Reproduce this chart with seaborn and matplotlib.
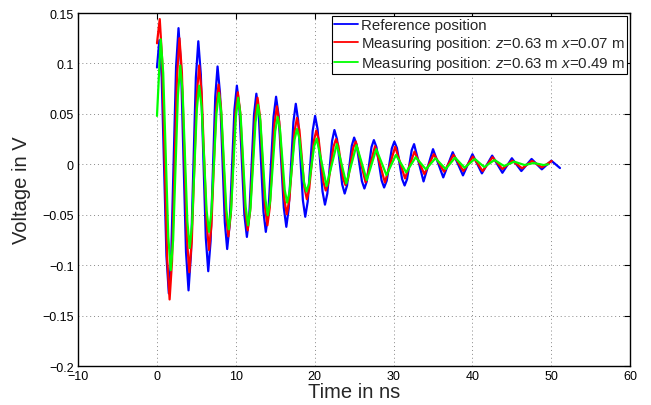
import matplotlib
matplotlib.use("Agg")
import matplotlib.pyplot as plt
import seaborn as sns
import pandas as pd
from matplotlib.ticker import FuncFormatter

# ---- data (extrema and shoulder points of each trace) ----
blue_t = [0, 0.3, 0.6, 1.2, 1.5, 1.81, 2.42, 2.73, 3.05, 3.68, 4.0, 4.31, 4.93, 5.24,
          5.56, 6.19, 6.5, 6.8, 7.39, 7.68, 7.99, 8.6, 8.9, 9.21, 9.82, 10.13, 10.45,
          11.08, 11.4, 11.7, 12.3, 12.6, 12.9, 13.5, 13.8, 14.13, 14.78, 15.1, 15.43,
          16.08, 16.4, 16.7, 17.3, 17.6, 17.9, 18.5, 18.8, 19.11, 19.74, 20.05, 20.36,
          20.99, 21.3, 21.6, 22.2, 22.5, 22.83, 23.48, 23.8, 24.1, 24.7, 25.0, 25.33,
          25.98, 26.3, 26.6, 27.2, 27.5, 27.83, 28.48, 28.8, 29.13, 29.78, 30.1, 30.43,
          31.08, 31.4, 31.7, 32.3, 32.6, 33.8, 35.0, 36.3, 37.5, 38.8, 40.0, 41.2, 42.5,
          43.8, 45.0, 46.2, 47.5, 48.8, 50.0, 51.1]
blue_v = [0.096, 0.123, 0.086, -0.091, -0.128, -0.0895, 0.0965, 0.135, 0.097, -0.087,
          -0.125, -0.089, 0.086, 0.122, 0.089, -0.073, -0.106, -0.076, 0.067, 0.097,
          0.0705, -0.0575, -0.084, -0.060, 0.054, 0.078, 0.056, -0.050, -0.072, -0.051,
          0.049, 0.070, 0.050, -0.047, -0.067, -0.047, 0.047, 0.067, 0.048, -0.043,
          -0.062, -0.044, 0.042, 0.060, 0.0436, -0.0356, -0.052, -0.037, 0.033, 0.048,
          0.035, -0.027, -0.040, -0.029, 0.023, 0.034, 0.0248, -0.0198, -0.029, -0.021,
          0.0184, 0.0265, 0.019, -0.0166, -0.024, -0.017, 0.017, 0.024, 0.017, -0.016,
          -0.023, -0.0163, 0.0158, 0.0225, 0.0161, -0.0146, -0.021, -0.015, 0.014, 0.020,
          -0.017, 0.015, -0.013, 0.012, -0.011, 0.010, -0.009, 0.0086, -0.0084, 0.006,
          -0.0067, 0.0053, -0.005, 0.0036, -0.0037]

red_t = [0, 0.35, 0.66, 1.29, 1.6, 1.91, 2.54, 2.85, 3.16, 3.79, 4.1, 4.41, 5.04, 5.35,
         5.66, 6.29, 6.6, 6.9, 7.5, 7.8, 8.11, 8.74, 9.05, 9.35, 9.95, 10.25, 10.56,
         11.19, 11.5, 11.81, 12.44, 12.75, 13.06, 13.69, 14.0, 14.3, 14.9, 15.2, 15.51,
         16.14, 16.45, 16.78, 17.43, 17.75, 18.06, 18.69, 19.0, 19.3, 19.9, 20.2, 20.5,
         21.1, 21.4, 21.73, 22.38, 22.7, 23.0, 23.6, 23.9, 24.23, 24.88, 25.2, 26.45,
         27.65, 28.9, 30.2, 31.45, 32.65, 33.9, 35.1, 36.4, 37.6, 38.85, 40.05, 41.3,
         42.55, 43.8, 45.05, 46.3, 47.55, 48.8, 50.05]
red_v = [0.12, 0.144, 0.103, -0.093, -0.134, -0.096, 0.087, 0.125, 0.091, -0.073,
         -0.107, -0.077, 0.068, 0.098, 0.071, -0.058, -0.085, -0.061, 0.055, 0.079,
         0.057, -0.0495, -0.0715, -0.0505, 0.0505, 0.0714, 0.0514, -0.0454, -0.0655,
         -0.0465, 0.0465, 0.066, 0.0475, -0.042, -0.0605, -0.043, 0.040, 0.0575, 0.042,
         -0.034, -0.0496, -0.0356, 0.032, 0.046, 0.034, -0.0228, -0.0346, -0.0245,
         0.0235, 0.0335, 0.0248, -0.0173, -0.026, -0.0185, 0.0175, 0.025, 0.0183,
         -0.014, -0.0206, -0.0143, 0.0163, 0.0226, -0.018, 0.018, -0.018, 0.0175, -0.014,
         0.0126, -0.0097, 0.010, -0.0073, 0.0093, -0.0067, 0.0076, -0.0067, 0.007,
         -0.0047, 0.0036, -0.004, 0.0033, -0.003, 0.0033]

green_t = [0, 0.47, 0.79, 1.43, 1.75, 2.05, 2.65, 2.95, 3.25, 3.85, 4.15, 4.45, 5.05,
           5.35, 5.66, 6.29, 6.6, 6.91, 7.54, 7.85, 8.16, 8.79, 9.1, 9.4, 10.0, 10.3,
           10.61, 11.24, 11.55, 11.86, 12.49, 12.8, 13.11, 13.74, 14.05, 14.36, 14.99,
           15.3, 15.6, 16.2, 16.5, 16.81, 17.44, 17.75, 18.05, 18.65, 18.95, 19.28,
           19.93, 20.25, 21.5, 22.8, 24.0, 25.3, 26.6, 27.8, 29.1, 30.3, 31.6, 32.8,
           34.1, 35.3, 36.6, 37.8, 39.0, 40.3, 41.5, 42.8, 44.0, 45.3, 46.6, 47.8, 49.0,
           49.6]
green_v = [0.048, 0.124, 0.0905, -0.0715, -0.105, -0.075, 0.068, 0.098, 0.0715, -0.0565,
           -0.083, -0.0594, 0.0544, 0.078, 0.0568, -0.0458, -0.067, -0.0468, 0.0506,
           0.0708, 0.051, -0.0447, -0.0645, -0.0454, 0.0469, 0.066, 0.0475, -0.042,
           -0.0605, -0.043, 0.0415, 0.059, 0.043, -0.0345, -0.0505, -0.036, 0.0327, 0.047,
           0.0345, -0.0255, -0.038, -0.0273, 0.0243, 0.035, 0.026, -0.018, -0.027,
           -0.0193, 0.0178, 0.0255, -0.0216, 0.020, -0.019, 0.019, -0.0157, 0.015,
           -0.0107, 0.0093, -0.008, 0.007, -0.005, 0.006, -0.0047, 0.0066, -0.0034,
           0.0053, -0.0027, 0.0043, -0.0017, 0.0026, -0.0007, 0.0013, -0.0007, 0.0]

labels = ["Reference position",
          "Measuring position: $z$=0.63 m $x$=0.07 m",
          "Measuring position: $z$=0.63 m $x$=0.49 m"]
colors = ["#0000ff", "#ff0000", "#00ff00"]
x_ticks = [-10, 0, 10, 20, 30, 40, 50, 60]
y_ticks = [-0.2, -0.15, -0.1, -0.05, 0, 0.05, 0.1, 0.15]

# ---- build long table ----
frames = []
for lab, t, v in zip(labels, [blue_t, red_t, green_t], [blue_v, red_v, green_v]):
    frames.append(pd.DataFrame({"t": t, "v": v, "series": lab}))
df = pd.concat(frames, ignore_index=True)

sns.set_style("white")
plt.rcParams["font.family"] = ["Liberation Sans", "DejaVu Sans"]
plt.rcParams["mathtext.fontset"] = "custom"
plt.rcParams["mathtext.it"] = "Liberation Sans:italic"
plt.rcParams["mathtext.rm"] = "Liberation Sans"

fig = plt.figure(figsize=(6.51, 4.06), dpi=100)
ax = fig.add_axes([0.12, 0.096, 0.848, 0.8695])

sns.lineplot(data=df, x="t", y="v", hue="series", hue_order=labels,
             palette=dict(zip(labels, colors)), estimator=None, sort=False,
             linewidth=1.6, ax=ax, legend=False)

ax.set_xlim(-10, 60)
ax.set_ylim(-0.2, 0.15)
ax.set_xticks(x_ticks)
ax.set_yticks(y_ticks)
fmt = FuncFormatter(lambda val, pos: ("%g" % round(val, 3)).replace("-", "\u2212"))
ax.xaxis.set_major_formatter(fmt)
ax.yaxis.set_major_formatter(fmt)
ax.tick_params(direction="in", top=True, right=True, length=4, width=0.8,
               labelsize=9, colors="black", pad=3)
ax.grid(True, linestyle=(0, (1, 3)), color="#888888", linewidth=0.7)
for s in ax.spines.values():
    s.set_visible(True)
    s.set_color("black")
    s.set_linewidth(1.0)

ax.set_xlabel("Time in ns", fontsize=14.5, labelpad=0)
ax.set_ylabel("Voltage in V", fontsize=14.5, labelpad=8)

handles = [plt.Line2D([], [], color=c, linewidth=1.3) for c in colors]
leg = ax.legend(handles, labels, loc="upper right", fontsize=10.8, frameon=True,
                fancybox=False, edgecolor="black", framealpha=1, borderpad=0.15,
                labelspacing=0.12, handlelength=1.55, handletextpad=0.25,
                borderaxespad=0.2)
leg.get_frame().set_linewidth(0.8)

fig.savefig("out.png", dpi=100)
